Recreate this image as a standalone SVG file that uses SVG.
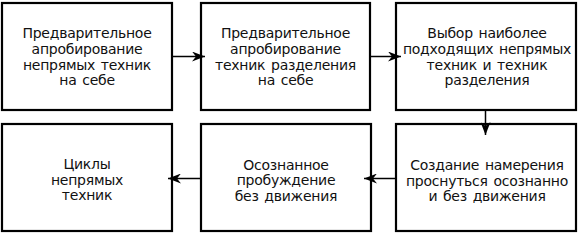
<svg xmlns="http://www.w3.org/2000/svg" width="579" height="234" viewBox="0 0 579 234">
<defs>
<style>
.box{fill:#fff;stroke:#000;stroke-width:2.2}
.t{font-family:"DejaVu Sans",Verdana,sans-serif;font-size:14px;fill:#111;text-anchor:middle;letter-spacing:-0.25px;word-spacing:1.5px}
.c{stroke:#000;stroke-width:1.5;fill:none;marker-end:url(#ah)}
</style>
<marker id="ah" viewBox="0 0 13 10" refX="13" refY="5" markerWidth="13" markerHeight="10" markerUnits="userSpaceOnUse" orient="auto">
<path d="M0,0 L13,5 L0,10 L4,5 Z" fill="#000"/>
</marker>
</defs>
<rect width="579" height="234" fill="#fff"/>
<g id="n1"><rect class="box" x="2" y="3" width="170" height="107"/>
<text class="t" x="87" y="38">Предварительное</text>
<text class="t" x="87" y="54">апробирование</text>
<text class="t" x="87" y="69.5">непрямых техник</text>
<text class="t" x="87" y="85">на себе</text></g>
<g id="n2"><rect class="box" x="201" y="3" width="169" height="107"/>
<text class="t" x="285.5" y="38">Предварительное</text>
<text class="t" x="285.5" y="54">апробирование</text>
<text class="t" x="285.5" y="69.5">техник разделения</text>
<text class="t" x="285.5" y="85">на себе</text></g>
<g id="n3"><rect class="box" x="396" y="3" width="180" height="107"/>
<text class="t" x="487" y="38">Выбор наиболее</text>
<text class="t" x="487" y="54">подходящих непрямых</text>
<text class="t" x="487" y="69.5">техник и техник</text>
<text class="t" x="487" y="85">разделения</text></g>
<g id="n4"><rect class="box" x="2" y="124" width="170" height="107"/>
<text class="t" x="87" y="169">Циклы</text>
<text class="t" x="87" y="184.5">непрямых</text>
<text class="t" x="87" y="200">техник</text></g>
<g id="n5"><rect class="box" x="201" y="124" width="170" height="107"/>
<text class="t" x="286" y="169.5">Осознанное</text>
<text class="t" x="286" y="185">пробуждение</text>
<text class="t" x="286" y="200.5">без движения</text></g>
<g id="n6"><rect class="box" x="396" y="124" width="180" height="107"/>
<text class="t" x="487" y="170">Создание намерения</text>
<text class="t" x="487" y="185.5">проснуться осознанно</text>
<text class="t" x="487" y="201">и без движения</text></g>
<g id="connectors">
<line class="c" x1="172" y1="56.5" x2="205" y2="56.5"/>
<line class="c" x1="370" y1="56.5" x2="401" y2="56.5"/>
<line class="c" x1="485.5" y1="110" x2="485.5" y2="135"/>
<line class="c" x1="396" y1="178.5" x2="364" y2="178.5"/>
<line class="c" x1="201" y1="178.5" x2="168" y2="178.5"/>
</g>
</svg>
